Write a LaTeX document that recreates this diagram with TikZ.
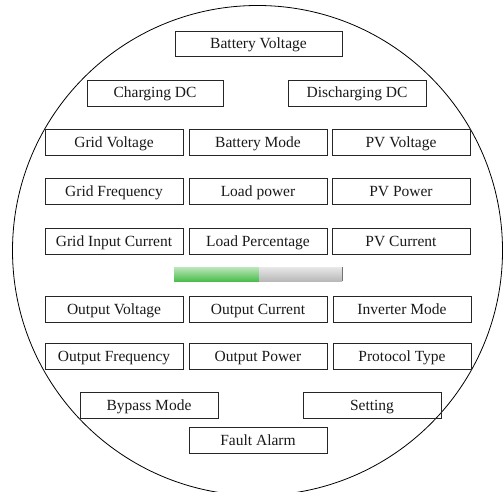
\documentclass[tikz,border=0pt]{standalone}
\usepackage{fontspec}
\setmainfont{Liberation Serif}
\begin{document}
\begin{tikzpicture}[x=1pt,y=-1pt,
  box/.style={draw=black!85,line width=0.8pt,minimum width=138pt,minimum height=26pt,inner sep=0pt,
    text height=11pt,text depth=1pt,
    font=\fontsize{15.5}{17}\selectfont,text=black!90}]
\useasboundingbox (0,0) rectangle (503,492);
\begin{scope}
\clip (0,0) rectangle (503,492);
\draw[line width=0.8pt] (257.5,250.5) circle[radius=245];
\end{scope}
% row 0
\node[box,minimum width=167pt,minimum height=25pt] (bv) at (258.5,43.5) {Battery Voltage};
\node[box,minimum width=136pt] (cdc) at (155,93) {Charging DC};
\node[box] (ddc) at (357,93) {Discharging DC};
% row 3
\node[box] (gv) at (114,142.5) {Grid Voltage};
\node[box] (bm) at (258,142.5) {Battery Mode};
\node[box] (pvv) at (401,142.5) {PV Voltage};
% row 4
\node[box] (gf) at (114,191.5) {Grid Frequency};
\node[box] (lp) at (258,191.5) {Load power};
\node[box] (pvp) at (401,191.5) {PV Power};
% row 5
\node[box] (gic) at (114,241) {Grid Input Current};
\node[box] (lpc) at (258,241) {Load Percentage};
\node[box] (pvc) at (401,241) {PV Current};
% progress bar
\shade[top color={rgb,255:red,190;green,230;blue,190},bottom color={rgb,255:red,75;green,190;blue,75}] (174,267) rectangle (259,281);
\shade[top color={rgb,255:red,232;green,232;blue,232},bottom color={rgb,255:red,185;green,185;blue,185}] (259,267) rectangle (342,281);
\draw[black!55,line width=0.8pt] (342,267) -- (342,281);
% row 6
\node[box] (ov) at (114,309) {Output Voltage};
\node[box] (oc) at (258,309) {Output Current};
\node[box] (im) at (402,309) {Inverter Mode};
% row 7
\node[box] (of) at (114,356) {Output Frequency};
\node[box] (op) at (258,356) {Output Power};
\node[box] (pt) at (402,356) {Protocol Type};
% bottom
\node[box] (bpm) at (149,405.5) {Bypass Mode};
\node[box] (set) at (372,405.5) {Setting};
\node[box] (fa) at (258,440) {Fault Alarm};
\end{tikzpicture}
\end{document}
